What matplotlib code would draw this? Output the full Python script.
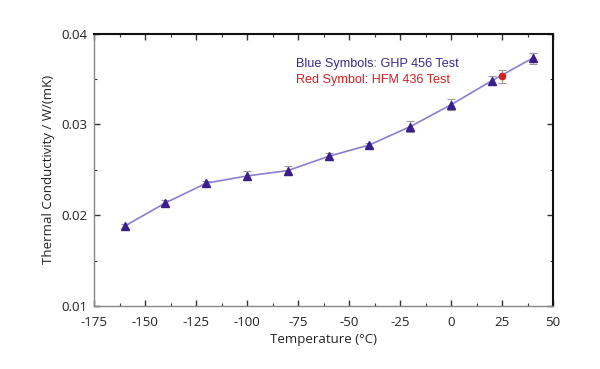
import matplotlib
matplotlib.use("Agg")
import matplotlib.pyplot as plt
from matplotlib.ticker import MultipleLocator

temps = [-160, -140, -120, -100, -80, -60, -40, -20, 0, 20, 40]
k_ghp = [0.0188, 0.02135, 0.02352, 0.02432, 0.02491, 0.02648, 0.02773, 0.02975, 0.03216, 0.0348, 0.03729]
err_ghp = [0.0002, 0.0003, 0.0002, 0.0005, 0.0005, 0.0004, 0.0002, 0.0006, 0.0006, 0.0005, 0.0006]
temp_hfm = [25]
k_hfm = [0.03527]
err_hfm = [0.0007]
xticks = [-175, -150, -125, -100, -75, -50, -25, 0, 25, 50]
yticks = [0.01, 0.02, 0.03, 0.04]

plt.rcParams['font.family'] = ['Open Sans', 'DejaVu Sans']
fig = plt.figure(figsize=(6, 3.69), dpi=100)
ax = fig.add_axes([0.1567, 0.1707, 0.765, 0.7385])

ax.errorbar(temps, k_ghp, yerr=err_ghp, fmt='none', ecolor='#999999', elinewidth=0.8, capsize=3, capthick=0.8, zorder=2)
ax.plot(temps, k_ghp, color='#8a7fd0', lw=1.2, zorder=3)
ax.plot(temps, k_ghp, ls='none', marker='^', ms=6, color='#3a1f8c', zorder=4)
ax.errorbar(temp_hfm, k_hfm, yerr=err_hfm, fmt='none', ecolor='#999999', elinewidth=0.8, capsize=3, capthick=0.8, zorder=2)
ax.plot(temp_hfm, k_hfm, ls='none', marker='o', ms=4.5, color='#d42020', zorder=5)

ax.set_xlim(-175, 50)
ax.set_ylim(0.01, 0.04)
ax.set_xticks(xticks)
ax.set_xticklabels([str(t) for t in xticks])
ax.set_yticks(yticks)
ax.set_yticklabels([f"{v:.2f}" for v in yticks])
ax.xaxis.set_minor_locator(MultipleLocator(12.5))
ax.yaxis.set_minor_locator(MultipleLocator(0.005))
ax.tick_params(which='both', direction='in', top=True, right=True, labelsize=9.5, labelcolor='#222222', color='#333333')
ax.tick_params(which='major', length=4, width=1, pad=5)
ax.tick_params(axis='x', which='major', pad=7)
ax.tick_params(which='minor', length=2, width=0.8)
for side in ['top', 'right']:
    ax.spines[side].set_linewidth(1.5)
    ax.spines[side].set_color('#111111')
for side in ['left', 'bottom']:
    ax.spines[side].set_linewidth(1.0)
    ax.spines[side].set_color('#888888')

ax.set_xlabel('Temperature (°C)', fontsize=9.5, labelpad=3, color='#222222')
ax.set_ylabel('Thermal Conductivity / W/(mK)', fontsize=9.5, labelpad=4, color='#222222')

ax.text(-76, 0.0366, 'Blue Symbols: GHP 456 Test', color='#3a2890', fontsize=9.1,
        family=['Liberation Sans', 'DejaVu Sans'], va='center')
ax.text(-76, 0.03483, 'Red Symbol: HFM 436 Test', color='#d42020', fontsize=9.1,
        family=['Liberation Sans', 'DejaVu Sans'], va='center')

fig.savefig('out.png', dpi=100)
